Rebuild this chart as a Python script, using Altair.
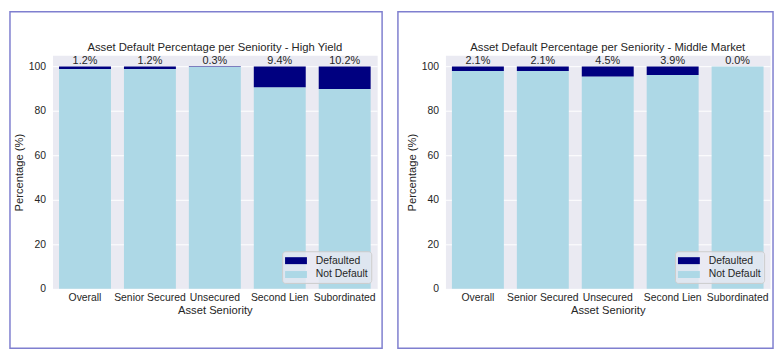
import altair as alt
import pandas as pd

categories = ["Overall", "Senior Secured", "Unsecured", "Second Lien", "Subordinated"]
hy_default = [1.2, 1.2, 0.3, 9.4, 10.2]
mm_default = [2.1, 2.1, 4.5, 3.9, 0.0]
status_labels = ["Defaulted", "Not Default"]
status_colors = ["#000080", "#add8e6"]
y_ticks = [0, 20, 40, 60, 80, 100]
titles = [
    "Asset Default Percentage per Seniority - High Yield",
    "Asset Default Percentage per Seniority - Middle Market",
]

FONT = "Liberation Sans"
TXT = "#262626"
W, H = 328, 236


def panel(defaults, title, fx0, fx1):
    rows = []
    for c, d in zip(categories, defaults):
        rows.append({"cat": c, "status": "Not Default", "pct": round(100 - d, 1), "ord": 0})
        rows.append({"cat": c, "status": "Defaulted", "pct": d, "ord": 1})
    df = pd.DataFrame(rows)
    lab = pd.DataFrame({
        "cat": categories,
        "total": [100.0] * len(categories),
        "txt": [f"{d:.1f}%" for d in defaults],
    })
    xscale = alt.Scale(paddingInner=0.2, paddingOuter=0.1)
    x = alt.X(
        "cat:N", sort=categories, title="Asset Seniority", scale=xscale,
        axis=alt.Axis(labelAngle=0, grid=False, labelPadding=4, titlePadding=1),
    )
    y = alt.Y(
        "pct:Q", stack="zero", title="Percentage (%)",
        scale=alt.Scale(domain=[0, 105], nice=False),
        axis=alt.Axis(values=y_ticks, labelPadding=7, titlePadding=4),
    )
    bars = alt.Chart(df).mark_bar().encode(
        x=x,
        y=y,
        color=alt.Color(
            "status:N",
            scale=alt.Scale(domain=status_labels, range=status_colors),
            legend=alt.Legend(title=None, orient="bottom-right"),
        ),
        order=alt.Order("ord:Q"),
    )
    text = alt.Chart(lab).mark_text(
        baseline="bottom", font=FONT, fontSize=11, color=TXT
    ).encode(
        x=alt.X("cat:N", sort=categories),
        y=alt.Y("total:Q"),
        text="txt:N",
    )
    ttl = alt.Chart(alt.Data(values=[{"t": title}])).mark_text(
        baseline="alphabetic", align="center", font=FONT, fontSize=11.4, color=TXT
    ).encode(
        x=alt.value(W / 2), y=alt.value(-4), text="t:N"
    )
    frame = alt.Chart(alt.Data(values=[{}])).mark_rect(
        fill="transparent", stroke="#7f7fcf", strokeWidth=1.5
    ).encode(
        x=alt.value(fx0), x2=alt.value(W + fx1),
        y=alt.value(-44), y2=alt.value(H + 60),
    )
    return alt.layer(bars, text, ttl, frame).properties(width=W, height=H)


chart = alt.hconcat(
    panel(hy_default, titles[0], -43, 5),
    panel(mm_default, titles[1], -48, 3),
    spacing=12,
).resolve_legend(
    color="independent"
).resolve_scale(
    color="independent"
).properties(
    padding={"left": 0, "top": 0, "right": 0, "bottom": 0}
).configure_view(
    fill="#eaeaf2", stroke="transparent"
).configure_axis(
    labelFont=FONT, titleFont=FONT, labelColor=TXT, titleColor=TXT,
    labelFontSize=10.5, titleFontSize=11.3, titleFontWeight="normal",
    gridColor="white", gridWidth=1, domain=False, ticks=False, tickSize=0,
).configure_legend(
    labelFont=FONT, labelFontSize=10.5, labelColor=TXT,
    fillColor="rgba(234,234,242,0.8)", strokeColor="#cccccc", cornerRadius=3,
    padding=3, offset=6, rowPadding=2,
    symbolType="M-1.7,-0.54L1.7,-0.54L1.7,0.54L-1.7,0.54Z", symbolSize=169,
    symbolStrokeWidth=0, symbolOffset=4.5, labelOffset=13.5,
)

chart.save("out.html", embed_options={"renderer": "svg", "actions": False})
